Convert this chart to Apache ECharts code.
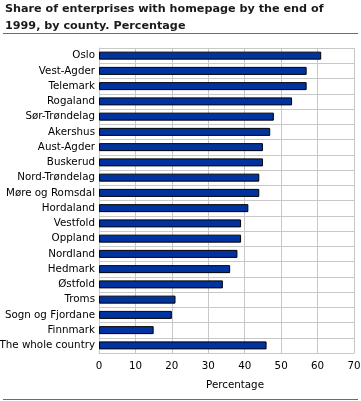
<!DOCTYPE html>
<html><head><meta charset="utf-8">
<script src="https://cdn.jsdelivr.net/npm/echarts@6/dist/echarts.min.js"></script>
<style>html,body{margin:0;padding:0;background:#fff}#c{width:361px;height:401px}</style>
</head><body><div id="c"></div>
<script>
const categories = ["Oslo","Vest-Agder","Telemark","Rogaland","Sør-Trøndelag","Akershus","Aust-Agder","Buskerud","Nord-Trøndelag","Møre og Romsdal","Hordaland","Vestfold","Oppland","Nordland","Hedmark","Østfold","Troms","Sogn og Fjordane","Finnmark","The whole country"];
const values = [61,57,57,53,48,47,45,45,44,44,41,39,39,38,36,34,21,20,15,46];
const xTicks = [0,10,20,30,40,50,60,70];
const titleText = "Share of enterprises with homepage by the end of\n1999, by county. Percentage";
const axisName = "Percentage";

const chart = echarts.init(document.getElementById('c'), null, {renderer:'canvas'});
const font = "'DejaVu Sans', sans-serif";
chart.setOption({
  animation:false,
  title:{text:titleText,left:5,top:1,padding:0,textStyle:{fontFamily:font,fontSize:11.2,fontWeight:'bold',color:'#1a1a1a',lineHeight:16.5}},
  graphic:[
    {type:'line',shape:{x1:3,y1:33.5,x2:358,y2:33.5},style:{stroke:'#009999',lineWidth:1}},
    {type:'line',shape:{x1:3,y1:399.5,x2:358,y2:399.5},style:{stroke:'#009999',lineWidth:1}}
  ],
  grid:{left:99,right:7,top:48,bottom:48,containLabel:false,outerBoundsMode:'none'},
  xAxis:{type:'value',min:0,max:70,interval:10,
    name:axisName,nameLocation:'middle',nameGap:27,
    nameTextStyle:{fontFamily:font,fontSize:10.3,color:'#000',padding:[0,0,0,17]},
    axisLine:{show:true,lineStyle:{color:'#c8c8c8'}},axisTick:{show:false},
    axisLabel:{fontFamily:font,fontSize:10.3,color:'#000',margin:8,formatter:v=>xTicks.includes(v)?String(v):''},
    splitLine:{show:true,lineStyle:{color:'#c8c8c8',width:1}}},
  yAxis:{type:'category',data:categories,inverse:true,
    axisLine:{show:true,lineStyle:{color:'#c8c8c8'}},axisTick:{show:false},
    axisLabel:{fontFamily:font,fontSize:10.3,color:'#000',margin:4},
    splitLine:{show:true,lineStyle:{color:'#c8c8c8',width:1}}},
  series:[{type:'bar',data:values,barWidth:8,
    itemStyle:{color:'#0033a0',borderColor:'#000',borderWidth:1}}]
});
</script></body></html>
